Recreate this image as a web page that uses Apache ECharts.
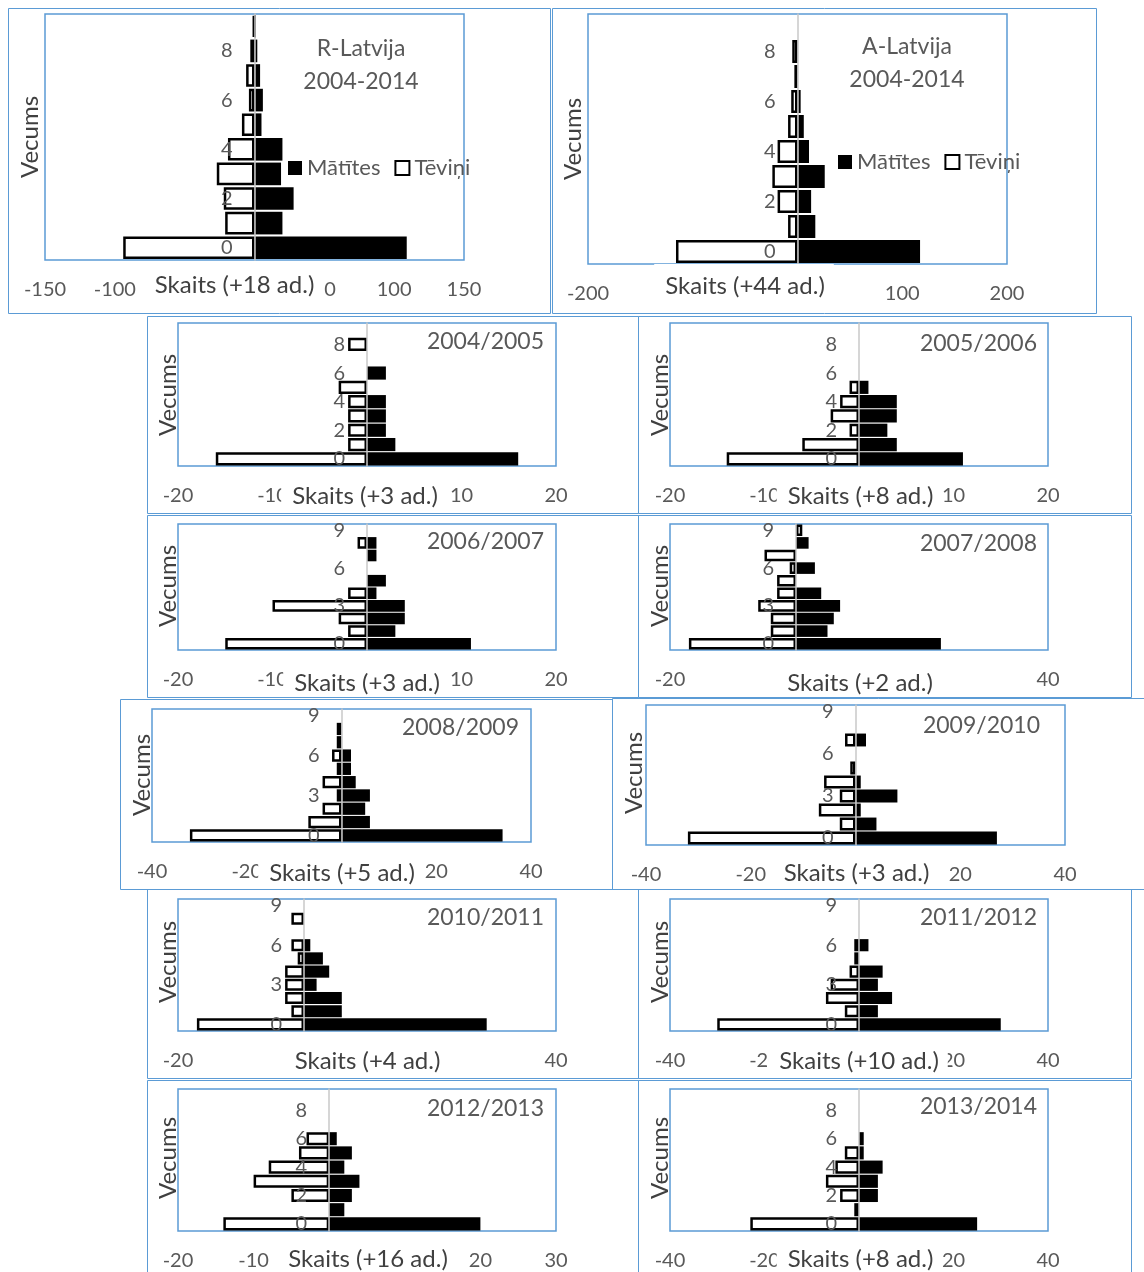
<!DOCTYPE html>
<html lang="lv">
<head>
<meta charset="utf-8">
<title>Vecuma struktūra</title>
<script src="https://cdn.jsdelivr.net/npm/echarts@6.0.0/dist/echarts.min.js"></script>
<style>
  html, body { margin: 0; padding: 0; background: #ffffff; }
  #chart { width: 1144px; height: 1272px; }
</style>
</head>
<body>
<div id="chart"></div>
<script>
// Age classes on the vertical axis (0 at the bottom)
const ages = ['0', '1', '2', '3', '4', '5', '6', '7', '8', '9'];
const seriesNames = ['Mātītes', 'Tēviņi'];

const panelTitles = ['R-Latvija\n2004-2014', 'A-Latvija\n2004-2014', '2004/2005', '2005/2006',
  '2006/2007', '2007/2008', '2008/2009', '2009/2010', '2010/2011', '2011/2012', '2012/2013', '2013/2014'];
const countTitles = ['Skaits (+18 ad.)', 'Skaits (+44 ad.)', 'Skaits (+3 ad.)', 'Skaits (+8 ad.)',
  'Skaits (+3 ad.)', 'Skaits (+2 ad.)', 'Skaits (+5 ad.)', 'Skaits (+3 ad.)', 'Skaits (+4 ad.)',
  'Skaits (+10 ad.)', 'Skaits (+16 ad.)', 'Skaits (+8 ad.)'];
const ageTitle = 'Vecums';

// Horizontal scale of each panel (males are plotted as negative counts)
const countMin  = [-150, -200, -20, -20, -20, -20, -40, -40, -20, -40, -20, -40];
const countMax  = [150, 200, 20, 20, 20, 40, 40, 40, 40, 40, 30, 40];
const countStep = [50, 100, 10, 10, 10, 20, 20, 20, 20, 20, 10, 20];
// age label shown on every 2nd or every 3rd class
const ageLabelSkip = [1, 1, 1, 1, 2, 2, 2, 2, 2, 2, 1, 1];

// Counts per age class 0..9
const matitesR    = [109, 20, 28, 19, 20, 5, 6, 4, 2, 1];
const teviniR     = [-94, -21, -22, -27, -19, -9, -4, -6, -3, -1];
const matitesA    = [117, 17, 13, 26, 11, 6, 3, 0, 0, 0];
const teviniA     = [-116, -9, -19, -24, -19, -9, -6, -3, -5, 0];
const matites0405 = [16, 3, 2, 2, 2, 0, 2, 0, 0, 0];
const tevini0405  = [-16, -2, -2, -2, -2, -3, 0, 0, -2, 0];
const matites0506 = [11, 4, 3, 4, 4, 1, 0, 0, 0, 0];
const tevini0506  = [-14, -6, -1, -3, -2, -1, 0, 0, 0, 0];
const matites0607 = [11, 3, 4, 4, 1, 2, 0, 1, 1, 0];
const tevini0607  = [-15, -2, -3, -10, -2, 0, 0, 0, -1, 0];
const matites0708 = [23, 5, 6, 7, 4, 0, 3, 0, 2, 0];
const tevini0708  = [-17, -4, -4, -6, -3, -3, -1, -5, 0, 1];
const matites0809 = [34, 6, 5, 6, 3, 2, 2, 0, 0, 0];
const tevini0809  = [-32, -7, -4, -1, -4, -1, -2, -1, -1, 0];
const matites0910 = [27, 4, 1, 8, 1, 0, 0, 2, 0, 0];
const tevini0910  = [-32, -3, -7, -3, -6, -1, 0, -2, 0, 0];
const matites1011 = [29, 6, 6, 2, 4, 3, 1, 0, 0, 0];
const tevini1011  = [-17, -2, -3, -3, -3, -1, -2, 0, -2, 0];
const matites1112 = [30, 4, 7, 4, 5, 0, 2, 0, 0, 0];
const tevini1112  = [-30, -3, -7, -6, -2, -1, -1, 0, 0, 0];
const matites1213 = [20, 2, 3, 4, 2, 3, 1, 0, 0, 0];
const tevini1213  = [-14, 0, -5, -10, -8, -4, -3, 0, 0, 0];
const matites1314 = [25, 0, 4, 4, 5, 1, 1, 0, 0, 0];
const tevini1314  = [-23, -1, -4, -7, -5, -3, 0, 0, 0, 0];

const matitesAll = [matitesR, matitesA, matites0405, matites0506, matites0607, matites0708,
  matites0809, matites0910, matites1011, matites1112, matites1213, matites1314];
const teviniAll = [teviniR, teviniA, tevini0405, tevini0506, tevini0607, tevini0708,
  tevini0809, tevini0910, tevini1011, tevini1112, tevini1213, tevini1314];

// Page layout: chart frame, plot area, heading, count title (x, y, pad), age title
const layout = [
  { frame: [8, 8, 542, 305],     plot: [45, 14, 419, 246],   head: [361, 65.5, 'center'], count: [233.5, 285, 2], age: [30, 137] },
  { frame: [552, 8, 544, 305],   plot: [588, 14, 419, 250],  head: [907, 63.5, 'center'], count: [744, 286, 10],   age: [573, 139] },
  { frame: [147, 316, 491, 197], plot: [178, 323, 378, 143], head: [544, 342, 'right'],   count: [364, 496, 2],    age: [168, 395] },
  { frame: [638, 316, 493, 197], plot: [670, 323, 378, 143], head: [1037, 344, 'right'],  count: [859.5, 496, 2],  age: [660, 395] },
  { frame: [147, 515, 491, 182], plot: [178, 524, 378, 126], head: [544, 542, 'right'],   count: [366, 683, 2],    age: [168, 586] },
  { frame: [638, 515, 493, 182], plot: [670, 524, 378, 126], head: [1037, 544, 'right'],  count: [859, 683, 2],    age: [660, 586] },
  { frame: [120, 699, 492, 190], plot: [152, 709, 379, 133], head: [519, 728, 'right'],   count: [341, 873, 2],    age: [142, 775] },
  { frame: [612, 698, 540, 191], plot: [646, 705, 419, 140], head: [1040, 726, 'right'],  count: [855.5, 873, 2],  age: [634, 773] },
  { frame: [147, 889, 491, 189], plot: [178, 899, 378, 132], head: [544, 918, 'right'],   count: [366.5, 1061, 2], age: [168, 962] },
  { frame: [638, 889, 493, 189], plot: [670, 899, 378, 132], head: [1037, 918, 'right'],  count: [858, 1061, 2],   age: [660, 962] },
  { frame: [147, 1080, 491, 200], plot: [178, 1089, 378, 142], head: [544, 1109, 'right'],  count: [367, 1259, 2],   age: [168, 1158] },
  { frame: [638, 1080, 493, 200], plot: [670, 1089, 378, 142], head: [1037, 1107, 'right'], count: [859.5, 1259, 2], age: [660, 1158] }
];
const legendPos = [[288, 157], [838, 151]];

const FONT = 'Lato, "Open Sans", sans-serif';
const BLUE = '#5B9BD5';
const GRAY = '#595959';
const DARK = '#404040';

const option = {
  animation: false,
  backgroundColor: '#ffffff',
  grid: [], xAxis: [], yAxis: [], series: [], graphic: [],
  legend: legendPos.map(p => ({
    left: p[0], top: p[1], padding: 0, orient: 'horizontal',
    itemWidth: 14, itemHeight: 14, itemGap: 14, icon: 'rect', selectedMode: false,
    textStyle: { fontSize: 22, fontFamily: FONT, color: GRAY },
    data: [
      { name: seriesNames[0], itemStyle: { color: '#000000' } },
      { name: seriesNames[1], itemStyle: { color: '#ffffff', borderColor: '#000000', borderWidth: 2 } }
    ]
  }))
};

layout.forEach((L, i) => {
  // the age axis sits where the count axis passes through zero
  const zeroOffset = (0 - countMin[i]) / (countMax[i] - countMin[i]) * L.plot[2];

  option.grid.push({
    left: L.plot[0], top: L.plot[1], width: L.plot[2], height: L.plot[3],
    show: true, borderColor: BLUE, borderWidth: 1.5, backgroundColor: 'transparent',
    containLabel: false, outerBoundsMode: 'none'
  });
  option.xAxis.push({
    type: 'value', gridIndex: i,
    min: countMin[i], max: countMax[i], interval: countStep[i],
    axisLine: { show: false }, axisTick: { show: false }, splitLine: { show: false },
    axisLabel: { color: GRAY, fontSize: 20, fontFamily: FONT, margin: 20 }
  });
  option.yAxis.push({
    type: 'category', gridIndex: i, data: ages, z: 5,
    position: 'left', offset: -zeroOffset,
    axisTick: { show: false }, splitLine: { show: false },
    axisLine: { show: true, onZero: false, lineStyle: { color: '#c8c8c8', width: 1.5 } },
    axisLabel: { interval: ageLabelSkip[i], color: GRAY, fontSize: 20, fontFamily: FONT, margin: 22 }
  });
  option.series.push({
    type: 'bar', name: seriesNames[0], xAxisIndex: i, yAxisIndex: i,
    data: matitesAll[i].map(v => (v === 0 ? null : v)),
    barGap: '-100%', barCategoryGap: '8%',
    itemStyle: { color: '#000000' }
  });
  option.series.push({
    type: 'bar', name: seriesNames[1], xAxisIndex: i, yAxisIndex: i,
    data: teviniAll[i].map(v => (v === 0 ? null : v)),
    barGap: '-100%', barCategoryGap: '8%',
    itemStyle: { color: '#ffffff', borderColor: '#000000', borderWidth: 2.5 }
  });

  // chart frame
  option.graphic.push({
    type: 'rect', z: 1, silent: true,
    shape: { x: L.frame[0] + 0.5, y: L.frame[1] + 0.5, width: L.frame[2], height: L.frame[3] },
    style: { fill: 'none', stroke: BLUE, lineWidth: 1 }
  });
  // heading
  option.graphic.push({
    type: 'text', z: 20, silent: true, x: L.head[0], y: L.head[1],
    style: {
      text: panelTitles[i], fontSize: 23, fontFamily: FONT, fill: GRAY,
      align: L.head[2], verticalAlign: 'middle', lineHeight: 33
    }
  });
  // horizontal axis title, on a white box over the tick labels
  option.graphic.push({
    type: 'text', z: 20, silent: true, x: L.count[0], y: L.count[1],
    style: {
      text: countTitles[i], fontSize: 24, fontFamily: FONT, fill: DARK,
      align: 'center', verticalAlign: 'middle',
      backgroundColor: '#ffffff', padding: [L.count[2], 9, L.count[2], 11]
    }
  });
  // vertical axis title
  option.graphic.push({
    type: 'text', z: 20, silent: true, x: L.age[0], y: L.age[1], rotation: Math.PI / 2,
    style: {
      text: ageTitle, fontSize: 24, fontFamily: FONT, fill: DARK,
      align: 'center', verticalAlign: 'middle'
    }
  });
});

const chart = echarts.init(document.getElementById('chart'), null, { renderer: 'canvas' });
chart.setOption(option);
</script>
</body>
</html>
